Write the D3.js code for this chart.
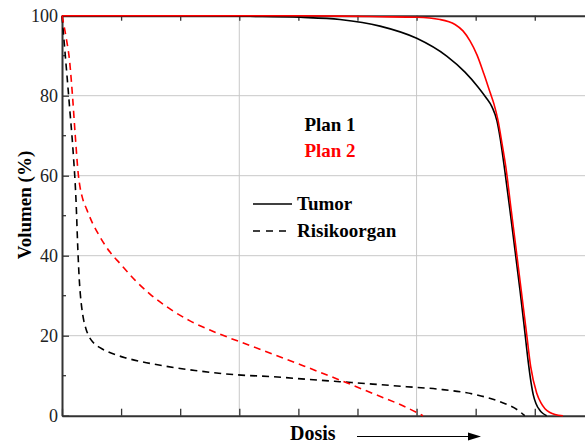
<!DOCTYPE html>
<html>
<head>
<meta charset="utf-8">
<script src="https://cdn.jsdelivr.net/npm/d3@7"></script>
<style>
html,body{margin:0;padding:0;background:#fff;}
svg{display:block;}
</style>
</head>
<body>
<svg id="chart" width="585" height="443"></svg>
<script>
// Dose (arbitrary units, tick every 10) vs volume (%)
const tumorPlan1 = [[0,100],[23.35,100],[31.81,99.85],[40.27,99.6],[47.04,99.05],[53.81,97.4],[60.02,94.35],[65.1,89.9],[68.19,85.9],[70.39,82.2],[71.74,79.55],[72.76,77.2],[73.6,73.7],[74.11,69.7],[74.96,60.9],[75.8,51.4],[76.65,41.4],[77.5,31.4],[78.17,22.9],[78.9,13.4],[79.36,8.4],[79.75,5.2],[80.2,3.05],[80.88,1.3],[81.39,0.55],[82.01,0]];
const tumorPlan2 = [[0,100],[40.27,99.97],[47.04,99.9],[53.81,99.75],[60.02,99.6],[63.96,99.05],[66.5,97.8],[67.85,96.2],[69.04,93.7],[70.22,90.2],[71.4,85.4],[72.42,80.9],[73.1,77.9],[73.77,73.9],[74.53,67.4],[75.13,61.9],[75.97,51.9],[76.82,41.9],[77.66,31.9],[78.6,20.7],[79.31,12.25],[80.32,5.7],[81.05,3.2],[81.73,1.75],[82.57,0.8],[83.42,0.3],[84.77,0]];
const organPlan1 = [[0,100],[0.34,93.9],[0.68,87.9],[1.02,81.9],[1.35,75.9],[1.69,69.9],[1.98,63.9],[2.2,58.9],[2.37,53.9],[2.5,48.9],[2.62,43.9],[2.76,38.9],[2.91,34.4],[3.1,30.4],[3.35,26.9],[3.67,23.9],[4.06,21.7],[4.57,19.8],[5.25,18.35],[6.43,17.0],[7.78,16.0],[10.66,14.5],[13.49,13.5],[17.43,12.4],[22.5,11.3],[29.78,10.2],[35.7,9.75],[41.4,9.1],[47.0,8.5],[52.6,7.9],[58.3,7.25],[63.96,6.6],[70.2,5.2],[74.1,3.5],[77.5,1.0],[78.3,0]];
const organPlan2 = [[0,100],[0.76,94.0],[1.27,88.9],[1.57,83.9],[1.78,79.9],[2.25,69.9],[2.79,59.9],[3.08,56.9],[3.47,54.4],[4.23,51.4],[5.08,48.4],[6.43,44.7],[8.12,40.9],[9.81,38.05],[12.35,33.9],[14.89,30.4],[18.27,26.7],[21.66,23.7],[25.04,21.4],[28.43,19.4],[31.81,17.55],[36.04,15.2],[40.27,12.8],[47.04,8.9],[52.62,5.55],[58.32,2.05],[61.08,0]];

const xTicks = [0,10,20,30,40,50,60,70,80];
const xGrid = [30,60];
const yMajor = [0,20,40,60,80,100];
const yMinor = [10,30,50,70,90];
const yGrid = [20,40,60,80];
const planLabels = ["Plan 1","Plan 2"];
const typeLabels = ["Tumor","Risikoorgan"];
const xTitle = "Dosis";
const yTitle = "Volumen (%)";

const svg = d3.select("#chart");
const L = 62, R = 585, T = 15.7, B = 415.7;
const x = d3.scaleLinear().domain([0, 88.5]).range([L, R]);
const y = d3.scaleLinear().domain([0, 100]).range([B, T]);
const axisColor = "#333";
const red = "#ff0000";

// grid
svg.append("g").selectAll("line").data(yGrid).join("line")
  .attr("x1", L).attr("x2", R).attr("y1", d=>y(d)).attr("y2", d=>y(d))
  .attr("stroke", "#c8c8c8").attr("stroke-width", 1);
svg.append("g").selectAll("line").data(xGrid).join("line")
  .attr("x1", d=>x(d)).attr("x2", d=>x(d)).attr("y1", T).attr("y2", B)
  .attr("stroke", "#c8c8c8").attr("stroke-width", 1);

// axes
function styleAxis(g){
  g.select(".domain").attr("stroke", axisColor).attr("stroke-width", 2);
  g.selectAll(".tick line").attr("stroke", axisColor).attr("stroke-width", 1.3);
}
const gb = svg.append("g").attr("transform", `translate(0,${B})`)
  .call(d3.axisBottom(x).tickValues(xTicks).tickSizeInner(-7).tickSizeOuter(0).tickFormat(""));
styleAxis(gb);
const gt = svg.append("g").attr("transform", `translate(0,${T})`)
  .call(d3.axisTop(x).tickValues(xTicks).tickSizeInner(-5).tickSizeOuter(0).tickFormat(""));
styleAxis(gt);
const gl = svg.append("g").attr("transform", `translate(${L},0)`)
  .call(d3.axisLeft(y).tickValues(yMajor).tickSizeInner(-7).tickSizeOuter(0).tickPadding(4));
styleAxis(gl);
gl.selectAll(".tick text").attr("font-family", "'Liberation Serif', serif").attr("font-size", 18).attr("fill", "#222");
svg.append("g").selectAll("line").data(yMinor).join("line")
  .attr("x1", L).attr("x2", L+4).attr("y1", d=>y(d)).attr("y2", d=>y(d))
  .attr("stroke", axisColor).attr("stroke-width", 1.3);

// curves
const line = d3.line().x(d=>x(d[0])).y(d=>y(d[1])).curve(d3.curveMonotoneX);
const series = [
  {data: tumorPlan1, color: "#000", dash: null},
  {data: tumorPlan2, color: red, dash: null},
  {data: organPlan1, color: "#000", dash: "7,5"},
  {data: organPlan2, color: red, dash: "7,5"}
];
svg.append("g").selectAll("path").data(series).join("path")
  .attr("d", d=>line(d.data)).attr("fill", "none")
  .attr("stroke", d=>d.color).attr("stroke-width", 1.6)
  .attr("stroke-dasharray", d=>d.dash);

// legend
const font = "'Liberation Serif', serif";
svg.append("g").selectAll("text").data(planLabels).join("text")
  .attr("x", 330).attr("y", (d,i)=>131 + i*26).attr("text-anchor", "middle")
  .attr("font-family", font).attr("font-weight", "bold").attr("font-size", 19)
  .attr("fill", (d,i)=> i===0 ? "#000" : red).text(d=>d);
svg.append("line").attr("x1", 253).attr("x2", 292).attr("y1", 204).attr("y2", 204)
  .attr("stroke", "#000").attr("stroke-width", 1.6);
svg.append("line").attr("x1", 253).attr("x2", 286).attr("y1", 231).attr("y2", 231)
  .attr("stroke", "#000").attr("stroke-width", 1.6).attr("stroke-dasharray", "7,6");
svg.append("g").selectAll("text").data(typeLabels).join("text")
  .attr("x", 297).attr("y", (d,i)=>210 + i*27)
  .attr("font-family", font).attr("font-weight", "bold").attr("font-size", 19)
  .attr("fill", "#000").text(d=>d);

// titles
svg.append("text").attr("x", 290).attr("y", 440)
  .attr("font-family", font).attr("font-weight", "bold").attr("font-size", 20)
  .attr("fill", "#000").text(xTitle);
svg.append("line").attr("x1", 357).attr("x2", 470).attr("y1", 436.5).attr("y2", 436.5)
  .attr("stroke", "#000").attr("stroke-width", 1.2);
svg.append("path").attr("d", "M468,432.5 L481,436.5 L468,440.5 Z").attr("fill", "#000");
svg.append("text").attr("transform", "translate(31,205) rotate(-90)")
  .attr("text-anchor", "middle")
  .attr("font-family", font).attr("font-weight", "bold").attr("font-size", 19)
  .attr("fill", "#000").text(yTitle);
</script>
</body>
</html>
